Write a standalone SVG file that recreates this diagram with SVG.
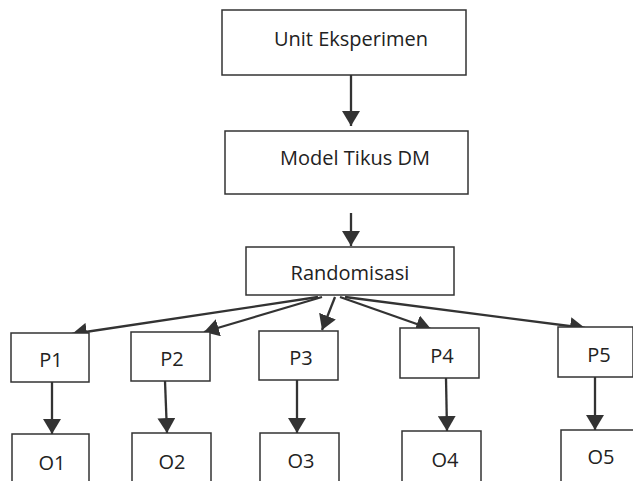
<svg xmlns="http://www.w3.org/2000/svg" width="633" height="481" viewBox="0 0 633 481">
<defs>
<style>
.box{fill:#fff;stroke:#333;stroke-width:1.5}
.lbl{font-family:"Open Sans","Liberation Sans",sans-serif;font-size:20px;font-weight:500;fill:#222;text-anchor:middle}
.con{stroke:#333;stroke-width:2.3;fill:none;marker-end:url(#ah)}
</style>
<marker id="ah" viewBox="0 0 10 12" refX="10" refY="6" markerWidth="6.5" markerHeight="7.8" markerUnits="strokeWidth" orient="auto">
<path d="M0,0 L10,6 L0,12 Z" fill="#333"/>
</marker>
</defs>
<rect width="633" height="481" fill="#fff"/>
<g id="connectors">
<line class="con" x1="351" y1="75" x2="351" y2="126"/>
<line class="con" x1="351" y1="213" x2="351" y2="246"/>
<line class="con" x1="318" y1="297" x2="72" y2="334"/>
<line class="con" x1="322" y1="297" x2="204" y2="332"/>
<line class="con" x1="335" y1="297" x2="322" y2="330"/>
<line class="con" x1="340" y1="297" x2="431" y2="329"/>
<line class="con" x1="345" y1="297" x2="585" y2="328"/>
<line class="con" x1="52" y1="382" x2="52" y2="434"/>
<line class="con" x1="165" y1="381" x2="167" y2="433"/>
<line class="con" x1="297" y1="380" x2="297" y2="433"/>
<line class="con" x1="446" y1="378" x2="447" y2="431"/>
<line class="con" x1="595" y1="377" x2="595" y2="430"/>
</g>
<g id="unit"><rect class="box" x="222" y="10" width="244" height="65"/><text class="lbl" x="351" y="46">Unit Eksperimen</text></g>
<g id="model"><rect class="box" x="225" y="131" width="243" height="63"/><text class="lbl" x="355" y="165">Model Tikus DM</text></g>
<g id="random"><rect class="box" x="246" y="247" width="208" height="48"/><text class="lbl" x="350" y="280">Randomisasi</text></g>
<g id="p1"><rect class="box" x="11" y="333" width="78" height="49"/><text class="lbl" x="51" y="367">P1</text></g>
<g id="p2"><rect class="box" x="131" y="332" width="79" height="49"/><text class="lbl" x="172" y="366">P2</text></g>
<g id="p3"><rect class="box" x="259" y="331" width="79" height="49"/><text class="lbl" x="301" y="365">P3</text></g>
<g id="p4"><rect class="box" x="400" y="328" width="79" height="50"/><text class="lbl" x="442" y="363">P4</text></g>
<g id="p5"><rect class="box" x="558" y="327" width="75" height="50"/><text class="lbl" x="599" y="362">P5</text></g>
<g id="o1"><rect class="box" x="12" y="434" width="77" height="50"/><text class="lbl" x="52" y="470">O1</text></g>
<g id="o2"><rect class="box" x="132" y="433" width="79" height="50"/><text class="lbl" x="172" y="469">O2</text></g>
<g id="o3"><rect class="box" x="260" y="433" width="79" height="50"/><text class="lbl" x="301" y="468">O3</text></g>
<g id="o4"><rect class="box" x="402" y="431" width="79" height="52"/><text class="lbl" x="445" y="467">O4</text></g>
<g id="o5"><rect class="box" x="561" y="430" width="75" height="53"/><text class="lbl" x="601" y="464">O5</text></g>
</svg>
